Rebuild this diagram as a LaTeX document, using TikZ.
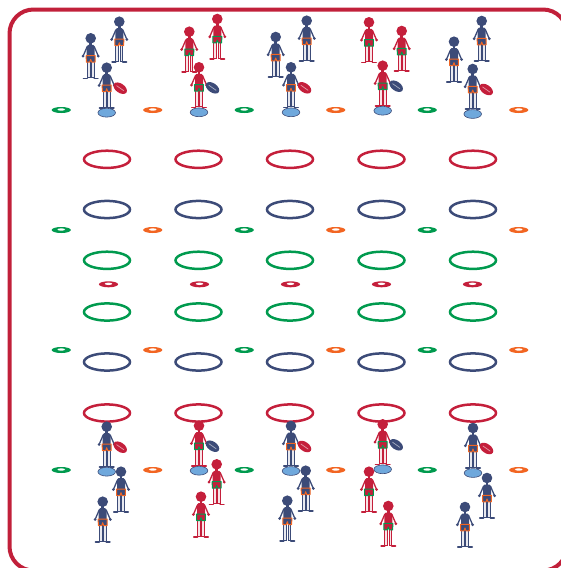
\documentclass[tikz,border=0pt]{standalone}
\begin{document}
\definecolor{navy}{HTML}{3C4B78}
\definecolor{teamred}{HTML}{C41F3B}
\definecolor{edge}{HTML}{C1203A}
\definecolor{conorange}{HTML}{F26522}
\definecolor{congreen}{HTML}{009A4E}
\definecolor{tee}{HTML}{6FA8DC}
\tikzset{
  ring/.style={line width=2.5},
  pics/player/.style 2 args={code={
    % legs and feet
    \draw[#1, line width=0.8, fill=#1!12] (-3.5,23) rectangle (-0.8,39.5);
    \draw[#1, line width=0.8, fill=#1!12] (0.8,23) rectangle (3.5,39.5);
    \draw[#1, line width=1.6, line cap=round] (-3.5,40) -- (-7.2,40) (3.5,40) -- (7.2,40);
    % arms and hands
    \draw[#1, line width=1.3, line cap=round] (-3.6,8.5) -- (-7.6,17.8) (3.6,8.5) -- (7.6,17.8);
    \fill[#1] (-7.6,17.8) circle (1.5) (7.6,17.8) circle (1.5);
    % torso, neck and head
    \fill[#1, rounded corners=1.5] (-4,6.5) rectangle (4,21);
    \fill[#1] (-1.3,3) rectangle (1.3,7);
    \fill[#1] (0,0) circle (5.3);
    % shorts
    \filldraw[fill=#1, draw=#2, line width=1, line join=round]
      (-4.5,17.4) -- (4.5,17.4) -- (4.4,23.8) -- (1,23.8) -- (0,21) -- (-1,23.8) -- (-4.4,23.8) -- cycle;
  }},
  pics/tee/.style={code={
    \filldraw[fill=tee, draw=navy, line width=0.6] (0,45) ellipse [x radius=8.8, y radius=4.4];
  }},
  pics/ball/.style={code={
    \fill[#1, rotate=-35] (0,0) ellipse [x radius=7.6, y radius=4.6];
    \draw[white!55!#1, line width=0.7, rotate=-35] (-4.5,0) -- (4.5,0);
  }},
}
\newcommand{\cone}[3]{%
  \fill[#3] (#1,#2) ellipse [x radius=9.6, y radius=3];
  \fill[white] (#1,#2-0.5) ellipse [x radius=3.8, y radius=1.2];}
\newcommand{\kicker}[5]{%
  \pic at (#1,#2) {tee};
  \pic at (#1,#2) {player={#3}{#4}};
  \pic at (#1+13.5,#2+20.5) {ball=#5};}
\begin{tikzpicture}[x=1pt,y=-1pt]
\useasboundingbox (0,0) rectangle (561,568);
% field boundary
\draw[edge, line width=4, rounded corners=24] (9.5,9.5) rectangle (567,570.5);

% hoops: red, navy, green, green, navy, red
\foreach \yy/\cc in {159.3/teamred, 209.5/navy, 260.3/congreen, 312/congreen, 362/navy, 413/teamred}{
  \foreach \i in {0,...,4}{
    \draw[ring, \cc] (107+91.5*\i,\yy) ellipse [x radius=23, y radius=8.6];
  }
}

% marker cones
\foreach \yy in {110,230,350,470}{
  \foreach \j/\cc in {0/congreen,1/conorange,2/congreen,3/conorange,4/congreen,5/conorange}{
    \cone{61.25+91.5*\j}{\yy}{\cc}
  }
}
\foreach \i in {0,...,4}{
  \cone{108.5+91*\i}{284.3}{teamred}
}

% top groups
\pic at (90.7,38.3) {player={navy}{conorange}};
\pic at (119.3,21.7) {player={navy}{conorange}};
\kicker{106.7}{67.7}{navy}{conorange}{teamred}

\pic at (189.3,31.7) {player={teamred}{congreen}};
\pic at (217.3,19) {player={teamred}{congreen}};
\kicker{199}{67.3}{teamred}{congreen}{navy}

\pic at (275.7,37) {player={navy}{conorange}};
\pic at (306.7,20.7) {player={navy}{conorange}};
\kicker{291}{67.3}{navy}{conorange}{teamred}

\pic at (369,22.3) {player={teamred}{congreen}};
\pic at (401.7,31) {player={teamred}{congreen}};
\kicker{382.7}{65.7}{teamred}{congreen}{navy}

\pic at (454,41.7) {player={navy}{conorange}};
\pic at (481.7,21) {player={navy}{conorange}};
\kicker{472.7}{69}{navy}{conorange}{teamred}

% bottom groups
\kicker{106.7}{426.7}{navy}{conorange}{teamred}
\pic at (121,471.7) {player={navy}{conorange}};
\pic at (102.7,501.7) {player={navy}{conorange}};

\kicker{199}{425.7}{teamred}{congreen}{navy}
\pic at (216.7,464.3) {player={teamred}{congreen}};
\pic at (201,496.7) {player={teamred}{congreen}};

\kicker{291}{426}{navy}{conorange}{teamred}
\pic at (305.7,470.7) {player={navy}{conorange}};
\pic at (287.3,500.7) {player={navy}{conorange}};

\kicker{382.7}{424.3}{teamred}{congreen}{navy}
\pic at (369,471.7) {player={teamred}{congreen}};
\pic at (388.3,506) {player={teamred}{congreen}};

\kicker{473}{428}{navy}{conorange}{teamred}
\pic at (487,478) {player={navy}{conorange}};
\pic at (465,507) {player={navy}{conorange}};
\end{tikzpicture}
\end{document}
